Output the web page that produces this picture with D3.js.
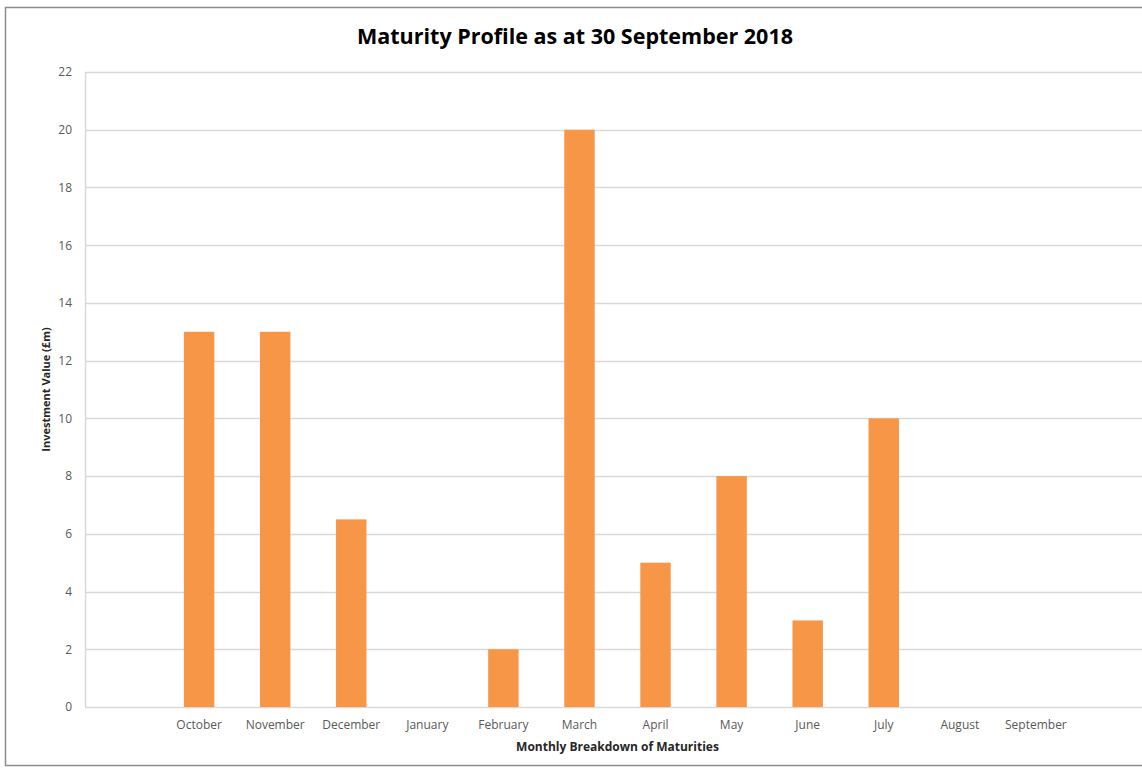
<!DOCTYPE html>
<html>
<head>
<meta charset="utf-8">
<script src="https://cdn.jsdelivr.net/npm/d3@7"></script>
<style>
  body { margin: 0; background: #fff; }
  svg { display: block; }
  svg text { font-family: "Open Sans", "Noto Sans", sans-serif; }
</style>
</head>
<body>
<svg id="chart"></svg>
<script>
// blank slots at both ends, as in the original
const categories = ["", "October", "November", "December", "January", "February", "March",
  "April", "May", "June", "July", "August", "September", ""];
const values = [null, 13, 13, 6.5, 0, 2, 20, 5, 8, 3, 10, 0, 0, null];
const yTicks = [0, 2, 4, 6, 8, 10, 12, 14, 16, 18, 20, 22];

const width = 1142;
const height = 769;
const margin = { top: 72, left: 85, right: -8, bottom: 62 };

const svg = d3.select("#chart").attr("width", width).attr("height", height);

// chart frame
svg.append("rect")
  .attr("x", 5.5).attr("y", 7.5)
  .attr("width", width + 20).attr("height", 758)
  .attr("fill", "#fff")
  .attr("stroke", "#8c8c8c")
  .attr("stroke-width", 1.5);

const x = d3.scaleBand()
  .domain(d3.range(categories.length))
  .range([margin.left, width - margin.right])
  .paddingInner(0.6)
  .paddingOuter(0.3);

const y = d3.scaleLinear()
  .domain([0, 22])
  .range([height - margin.bottom, margin.top]);

// gridlines
svg.append("g")
  .selectAll("line")
  .data(yTicks)
  .join("line")
  .attr("x1", margin.left)
  .attr("x2", width - margin.right)
  .attr("y1", (d) => Math.round(y(d)) + 0.5)
  .attr("y2", (d) => Math.round(y(d)) + 0.5)
  .attr("stroke", "#d9d9d9")
  .attr("stroke-width", 1.5);

// left axis line
svg.append("line")
  .attr("x1", margin.left + 0.5).attr("x2", margin.left + 0.5)
  .attr("y1", y(22)).attr("y2", y(0))
  .attr("stroke", "#d9d9d9")
  .attr("stroke-width", 1.5);

// y axis
const yAxis = svg.append("g")
  .attr("transform", `translate(${margin.left},0)`)
  .call(d3.axisLeft(y).tickValues(yTicks).tickSize(0).tickPadding(13));
yAxis.select(".domain").remove();
yAxis.selectAll("text")
  .attr("fill", "#595959")
  .style("font-size", "12px");

// bars
svg.append("g")
  .selectAll("rect")
  .data(values.map((v, i) => ({ i, v })).filter((d) => d.v))
  .join("rect")
  .attr("x", (d) => x(d.i))
  .attr("width", x.bandwidth())
  .attr("y", (d) => y(d.v))
  .attr("height", (d) => y(0) - y(d.v))
  .attr("fill", "#f79646");

// x axis labels
const xAxis = svg.append("g")
  .attr("transform", `translate(0,${y(0)})`)
  .call(d3.axisBottom(x).tickSize(0).tickPadding(13).tickFormat((i) => categories[i]));
xAxis.select(".domain").remove();
xAxis.selectAll("text")
  .attr("fill", "#595959")
  .style("font-size", "12px");

// titles
svg.append("text")
  .attr("x", 575)
  .attr("y", 44)
  .attr("text-anchor", "middle")
  .attr("fill", "#000")
  .style("font-size", "21.5px")
  .style("font-weight", "bold")
  .text("Maturity Profile as at 30 September 2018");

svg.append("text")
  .attr("x", (margin.left + width - margin.right) / 2)
  .attr("y", 751)
  .attr("text-anchor", "middle")
  .attr("fill", "#262626")
  .style("font-size", "12px")
  .style("font-weight", "bold")
  .text("Monthly Breakdown of Maturities");

svg.append("text")
  .attr("transform", `translate(50,${(y(0) + y(22)) / 2}) rotate(-90)`)
  .attr("text-anchor", "middle")
  .attr("fill", "#262626")
  .style("font-size", "11px")
  .style("font-weight", "bold")
  .text("Investment Value (£m)");
</script>
</body>
</html>
